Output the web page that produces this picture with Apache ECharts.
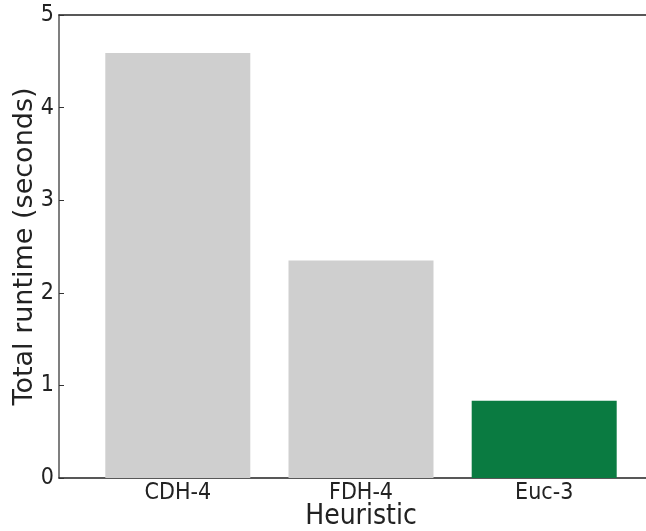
<!DOCTYPE html>
<html>
<head>
<meta charset="utf-8">
<script src="https://cdn.jsdelivr.net/npm/echarts@6/dist/echarts.min.js"></script>
<style>
html,body{margin:0;padding:0;background:#fff;}
#chart{width:646px;height:531px;}
</style>
</head>
<body>
<div id="chart"></div>
<script>
const categories = ["CDH-4", "FDH-4", "Euc-3"];
const runtimes = [4.59, 2.35, 0.835];
const barColors = ["#cfcfcf", "#cfcfcf", "#0a7b41"];
const yTicks = [0, 1, 2, 3, 4, 5];

const FONT = "DejaVu Sans";
const FONT_H = "'DejaVu Sans Condensed', 'DejaVu Sans'";
const chart = echarts.init(document.getElementById('chart'), null, {renderer: 'canvas'});

const positions = categories.map((c, i) => i);
const barData = runtimes.map((v, i) => ({
  value: [i, v],
  itemStyle: {color: barColors[i]}
}));

chart.setOption({
  animation: false,
  backgroundColor: '#ffffff',
  grid: {left: 59, right: -17, top: 15, bottom: 53, containLabel: false, outerBoundsMode: 'none'},
  xAxis: [{
    type: 'value',
    position: 'bottom',
    min: -0.6485,
    max: 2.6485,
    splitLine: {show: false},
    axisLine: {show: true, onZero: false, lineStyle: {color: '#222', width: 1.5}},
    axisTick: {show: true, inside: true, length: 5, customValues: positions, lineStyle: {color: '#222', width: 1}},
    axisLabel: {
      show: true, customValues: positions, margin: 4,
      fontFamily: FONT_H, fontSize: 23, color: '#222',
      formatter: v => categories[Math.round(v)]
    },
    name: 'Heuristic',
    nameLocation: 'middle',
    nameGap: 25,
    nameMoveOverlap: false,
    nameTextStyle: {fontFamily: FONT_H, fontSize: 28, color: '#222'}
  }, {
    type: 'value',
    position: 'top',
    min: -0.6485,
    max: 2.6485,
    splitLine: {show: false},
    axisLine: {show: true, onZero: false, lineStyle: {color: '#222', width: 1.5}},
    axisTick: {show: false},
    axisLabel: {show: false}
  }],
  yAxis: {
    type: 'value',
    min: 0, max: 5, interval: 1,
    splitLine: {show: false},
    axisLine: {show: true, onZero: false, lineStyle: {color: '#555', width: 1.5}},
    axisTick: {show: true, inside: true, length: 5, lineStyle: {color: '#333', width: 1}},
    axisLabel: {
      fontFamily: FONT_H, fontSize: 23, color: '#222', margin: 5,
      customValues: yTicks
    },
    name: 'Total runtime (seconds)',
    nameLocation: 'middle',
    nameGap: 21,
    nameMoveOverlap: false,
    nameTextStyle: {fontFamily: FONT, fontSize: 27, color: '#222'}
  },
  series: [{
    type: 'bar',
    xAxisIndex: 0,
    data: barData,
    barWidth: 145
  }]
});
</script>
</body>
</html>
